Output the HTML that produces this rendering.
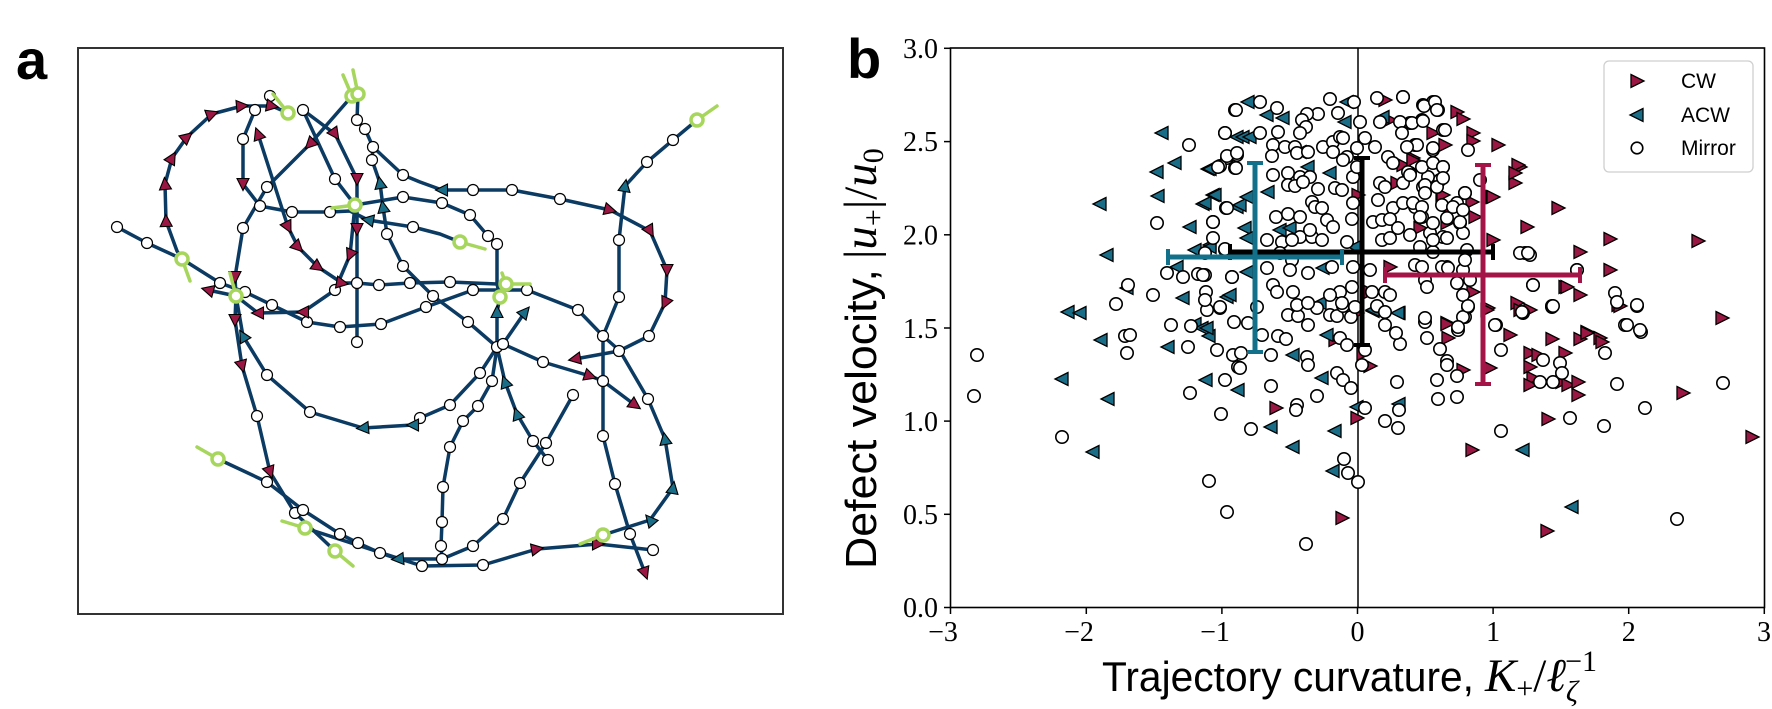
<!DOCTYPE html>
<html><head><meta charset="utf-8"><style>
html,body{margin:0;padding:0;background:#fff}
svg{display:block}
.tk{font-family:"Liberation Serif",serif;font-size:28px;fill:#000}
.sans{font-family:"Liberation Sans",sans-serif}
</style></head><body>
<svg width="1772" height="709" viewBox="0 0 1772 709" xmlns="http://www.w3.org/2000/svg">
<defs>
<path id="R" d="M-6,-6.5L7,0L-6,6.5Z" fill="#9b1743" stroke="#000" stroke-width="1.3"/>
<path id="L" d="M6,-6.5L-7,0L6,6.5Z" fill="#1a6d87" stroke="#000" stroke-width="1.3"/>
<path id="ta" d="M-5.5,-6L6.5,0L-5.5,6Z" stroke="#000" stroke-width="1.1"/>
</defs>
<rect width="1772" height="709" fill="#fff"/>

<!-- panel labels -->
<text x="16" y="79" class="sans" font-weight="bold" font-size="56">a</text>
<text x="847" y="78" class="sans" font-weight="bold" font-size="56">b</text>

<!-- ============ PANEL A ============ -->
<rect x="78" y="48" width="705" height="566" fill="none" stroke="#333" stroke-width="2"/>
<g fill="none" stroke="#0b3a62" stroke-width="3.5" stroke-linejoin="round" stroke-linecap="round">
<polyline points="182,259 177,251 166,221 165,184 172,158 187,137 212,114 242,106 272,106 288,113"/>
<polyline points="255,110 243,139 243,184 260,206 292,212 330,212 350,211 368,220 413,227 440,234 460,242"/>
<polyline points="352,96 310,144 267,187 243,228 235,277 236,296 235,320 242,366 257,416 270,472 295,513 335,551"/>
<polyline points="117,227 147,243 182,259 220,283 245,292 272,305 307,322 340,327 381,324 426,307 473,290 527,290 578,310 603,336 620,351 648,399 665,439 673,488 650,520 603,535"/>
<polyline points="355,205 350,255 335,290 303,312 258,313 236,296 208,290"/>
<polyline points="258,134 288,227 298,247 318,267 342,283 357,283 379,285 410,283 450,282 497,284 506,284"/>
<polyline points="303,110 335,134 357,179 357,229 357,283 357,342"/>
<polyline points="303,110 335,179 355,205"/>
<polyline points="358,94 357,120 365,129 373,147 372,160 380,183 383,207 387,234 403,266 433,296 468,322 497,347"/>
<polyline points="373,147 403,175 420,182 442,190 473,190 512,190 560,199 610,210 650,231 667,270 665,303 649,336 619,351 575,359"/>
<polyline points="355,205 403,197 442,203 470,215 488,236 497,244 497,284 500,297"/>
<polyline points="500,297 497,312 497,347"/>
<polyline points="503,344 525,312"/>
<polyline points="503,344 543,362 590,376 603,381 635,405"/>
<polyline points="497,347 480,373 450,405 420,418 413,425 363,428 310,412 267,375 243,336 236,296"/>
<polyline points="497,347 492,381 478,406 463,421 450,447 443,487 442,522 441,546 442,559"/>
<polyline points="497,347 505,382 517,414 533,441 548,460"/>
<polyline points="218,459 267,482 303,510 340,534 358,543 380,553 398,559 442,559 473,546 503,519 520,483 546,443 573,395"/>
<polyline points="305,528 422,566 483,565 537,549 598,544 653,550"/>
<polyline points="697,120 673,140 647,162 625,186 619,240 619,297 603,336 603,381 603,436 615,484 630,534 645,573"/>
</g>
<g fill="#fff" stroke="#000" stroke-width="1.2">
<circle cx="270" cy="96" r="5.5"/><circle cx="255" cy="110" r="5.5"/><circle cx="243" cy="139" r="5.5"/><circle cx="260" cy="206" r="5.5"/><circle cx="292" cy="212" r="5.5"/><circle cx="330" cy="212" r="5.5"/><circle cx="413" cy="227" r="5.5"/><circle cx="267" cy="187" r="5.5"/><circle cx="243" cy="228" r="5.5"/><circle cx="257" cy="416" r="5.5"/><circle cx="295" cy="513" r="5.5"/><circle cx="117" cy="227" r="5.5"/><circle cx="147" cy="243" r="5.5"/><circle cx="220" cy="283" r="5.5"/><circle cx="245" cy="292" r="5.5"/><circle cx="272" cy="305" r="5.5"/><circle cx="307" cy="322" r="5.5"/><circle cx="340" cy="327" r="5.5"/><circle cx="381" cy="324" r="5.5"/><circle cx="426" cy="307" r="5.5"/><circle cx="473" cy="290" r="5.5"/><circle cx="527" cy="290" r="5.5"/><circle cx="578" cy="310" r="5.5"/><circle cx="603" cy="336" r="5.5"/><circle cx="648" cy="399" r="5.5"/><circle cx="335" cy="290" r="5.5"/><circle cx="357" cy="283" r="5.5"/><circle cx="379" cy="285" r="5.5"/><circle cx="410" cy="283" r="5.5"/><circle cx="450" cy="282" r="5.5"/><circle cx="303" cy="110" r="5.5"/><circle cx="357" cy="342" r="5.5"/><circle cx="335" cy="179" r="5.5"/><circle cx="357" cy="120" r="5.5"/><circle cx="365" cy="129" r="5.5"/><circle cx="373" cy="147" r="5.5"/><circle cx="372" cy="160" r="5.5"/><circle cx="387" cy="234" r="5.5"/><circle cx="403" cy="266" r="5.5"/><circle cx="433" cy="296" r="5.5"/><circle cx="468" cy="322" r="5.5"/><circle cx="497" cy="347" r="5.5"/><circle cx="503" cy="344" r="5.5"/><circle cx="403" cy="175" r="5.5"/><circle cx="473" cy="190" r="5.5"/><circle cx="512" cy="190" r="5.5"/><circle cx="560" cy="199" r="5.5"/><circle cx="649" cy="336" r="5.5"/><circle cx="619" cy="351" r="5.5"/><circle cx="403" cy="197" r="5.5"/><circle cx="442" cy="203" r="5.5"/><circle cx="470" cy="215" r="5.5"/><circle cx="488" cy="236" r="5.5"/><circle cx="497" cy="244" r="5.5"/><circle cx="543" cy="362" r="5.5"/><circle cx="603" cy="381" r="5.5"/><circle cx="480" cy="373" r="5.5"/><circle cx="450" cy="405" r="5.5"/><circle cx="310" cy="412" r="5.5"/><circle cx="267" cy="375" r="5.5"/><circle cx="492" cy="381" r="5.5"/><circle cx="478" cy="406" r="5.5"/><circle cx="463" cy="421" r="5.5"/><circle cx="450" cy="447" r="5.5"/><circle cx="443" cy="487" r="5.5"/><circle cx="442" cy="522" r="5.5"/><circle cx="441" cy="546" r="5.5"/><circle cx="442" cy="559" r="5.5"/><circle cx="533" cy="441" r="5.5"/><circle cx="548" cy="460" r="5.5"/><circle cx="267" cy="482" r="5.5"/><circle cx="303" cy="510" r="5.5"/><circle cx="340" cy="534" r="5.5"/><circle cx="358" cy="543" r="5.5"/><circle cx="380" cy="553" r="5.5"/><circle cx="473" cy="546" r="5.5"/><circle cx="503" cy="519" r="5.5"/><circle cx="520" cy="483" r="5.5"/><circle cx="546" cy="443" r="5.5"/><circle cx="573" cy="395" r="5.5"/><circle cx="422" cy="566" r="5.5"/><circle cx="483" cy="565" r="5.5"/><circle cx="653" cy="550" r="5.5"/><circle cx="673" cy="140" r="5.5"/><circle cx="647" cy="162" r="5.5"/><circle cx="619" cy="240" r="5.5"/><circle cx="619" cy="297" r="5.5"/><circle cx="603" cy="436" r="5.5"/><circle cx="615" cy="484" r="5.5"/><circle cx="630" cy="534" r="5.5"/><circle cx="420" cy="418" r="5.5"/>
</g>
<g fill="#9b1743">
<use href="#ta" transform="translate(166,221) rotate(-92)"/><use href="#ta" transform="translate(165,184) rotate(-95)"/><use href="#ta" transform="translate(172,158) rotate(-60)"/><use href="#ta" transform="translate(187,137) rotate(-40)"/><use href="#ta" transform="translate(212,114) rotate(-20)"/><use href="#ta" transform="translate(242,106) rotate(-5)"/><use href="#ta" transform="translate(272,106) rotate(10)"/>
<use href="#ta" transform="translate(243,184) rotate(90)"/>
<use href="#ta" transform="translate(310,144) rotate(135)"/><use href="#ta" transform="translate(235,277) rotate(90)"/><use href="#ta" transform="translate(235,320) rotate(90)"/><use href="#ta" transform="translate(242,366) rotate(75)"/><use href="#ta" transform="translate(270,472) rotate(70)"/>
<use href="#ta" transform="translate(350,255) rotate(113)"/><use href="#ta" transform="translate(303,312) rotate(180)"/><use href="#ta" transform="translate(258,313) rotate(180)"/><use href="#ta" transform="translate(208,290) rotate(-165)"/>
<use href="#ta" transform="translate(258,134) rotate(-110)"/><use href="#ta" transform="translate(288,227) rotate(63)"/><use href="#ta" transform="translate(298,247) rotate(45)"/><use href="#ta" transform="translate(318,267) rotate(35)"/><use href="#ta" transform="translate(342,283) rotate(10)"/>
<use href="#ta" transform="translate(335,134) rotate(55)"/><use href="#ta" transform="translate(357,179) rotate(90)"/><use href="#ta" transform="translate(357,229) rotate(90)"/>
<use href="#ta" transform="translate(610,210) rotate(15)"/><use href="#ta" transform="translate(650,231) rotate(60)"/><use href="#ta" transform="translate(667,270) rotate(90)"/><use href="#ta" transform="translate(665,303) rotate(115)"/><use href="#ta" transform="translate(575,359) rotate(170)"/>
<use href="#ta" transform="translate(590,376) rotate(18)"/><use href="#ta" transform="translate(635,405) rotate(35)"/>
<use href="#ta" transform="translate(537,549) rotate(-10)"/><use href="#ta" transform="translate(598,544) rotate(0)"/>
<use href="#ta" transform="translate(645,573) rotate(70)"/>
</g>
<g fill="#1a6d87">
<use href="#ta" transform="translate(368,220) rotate(190)"/><use href="#ta" transform="translate(380,183) rotate(-100)"/><use href="#ta" transform="translate(383,207) rotate(-100)"/><use href="#ta" transform="translate(442,190) rotate(180)"/><use href="#ta" transform="translate(497,312) rotate(-90)"/><use href="#ta" transform="translate(525,312) rotate(-50)"/><use href="#ta" transform="translate(413,425) rotate(180)"/><use href="#ta" transform="translate(363,428) rotate(175)"/><use href="#ta" transform="translate(243,336) rotate(-120)"/><use href="#ta" transform="translate(505,382) rotate(-110)"/><use href="#ta" transform="translate(517,414) rotate(-110)"/><use href="#ta" transform="translate(665,439) rotate(-100)"/><use href="#ta" transform="translate(673,488) rotate(-80)"/><use href="#ta" transform="translate(650,520) rotate(-130)"/><use href="#ta" transform="translate(398,559) rotate(175)"/><use href="#ta" transform="translate(625,186) rotate(-80)"/>
</g>
<g stroke="#a6d65c" stroke-width="3.5" fill="#fff" stroke-linecap="round">
<line x1="460" y1="242" x2="485" y2="249"/><circle cx="460" cy="242" r="6"/>
<line x1="182" y1="259" x2="190" y2="281"/><circle cx="182" cy="259" r="6"/>
<line x1="288" y1="113" x2="273" y2="94"/><circle cx="288" cy="113" r="6"/>
<line x1="352" y1="96" x2="343" y2="75"/><circle cx="352" cy="96" r="6"/>
<line x1="358" y1="94" x2="353" y2="70"/><circle cx="358" cy="94" r="6"/>
<line x1="236" y1="296" x2="230" y2="273"/><circle cx="236" cy="296" r="6"/>
<line x1="355" y1="205" x2="332" y2="208"/><circle cx="355" cy="205" r="6"/>
<line x1="506" y1="284" x2="530" y2="284"/><line x1="506" y1="284" x2="502" y2="273"/><circle cx="506" cy="284" r="6"/>
<circle cx="500" cy="297" r="6"/>
<line x1="218" y1="459" x2="197" y2="447"/><circle cx="218" cy="459" r="6"/>
<line x1="305" y1="528" x2="282" y2="521"/><circle cx="305" cy="528" r="6"/>
<line x1="335" y1="551" x2="353" y2="566"/><circle cx="335" cy="551" r="6"/>
<line x1="603" y1="535" x2="580" y2="544"/><circle cx="603" cy="535" r="6"/>
<line x1="697" y1="120" x2="717" y2="106"/><circle cx="697" cy="120" r="6"/>
</g>

<!-- ============ PANEL B ============ -->
<line x1="1358" y1="48" x2="1358" y2="607.5" stroke="#000" stroke-width="1.5"/>
<!-- CW -->
<g>
<use href="#R" x="1385" y="100"/><use href="#R" x="1390" y="120"/><use href="#R" x="1457" y="112"/><use href="#R" x="1463" y="119"/><use href="#R" x="1433" y="133"/><use href="#R" x="1445" y="145"/><use href="#R" x="1473" y="133"/><use href="#R" x="1473" y="141"/><use href="#R" x="1498" y="145"/><use href="#R" x="1403" y="165"/><use href="#R" x="1413" y="158"/><use href="#R" x="1397" y="183"/><use href="#R" x="1442" y="195"/><use href="#R" x="1452" y="209"/><use href="#R" x="1447" y="223"/><use href="#R" x="1420" y="228"/><use href="#R" x="1472" y="202"/><use href="#R" x="1475" y="217"/><use href="#R" x="1492" y="197"/><use href="#R" x="1520" y="167"/><use href="#R" x="1515" y="183"/><use href="#R" x="1558" y="208"/><use href="#R" x="1527" y="227"/><use href="#R" x="1580" y="252"/><use href="#R" x="1493" y="240"/><use href="#R" x="1390" y="267"/><use href="#R" x="1370" y="292"/><use href="#R" x="1565" y="287"/><use href="#R" x="1580" y="295"/><use href="#R" x="1517" y="303"/><use href="#R" x="1530" y="310"/><use href="#R" x="1358" y="195"/>
<use href="#R" x="1413" y="160"/><use href="#R" x="1443" y="195"/><use href="#R" x="1450" y="208"/><use href="#R" x="1610" y="239"/><use href="#R" x="1698" y="241"/><use href="#R" x="1610" y="270"/><use href="#R" x="1567" y="287"/><use href="#R" x="1473" y="292"/><use href="#R" x="1447" y="323"/><use href="#R" x="1618" y="305"/><use href="#R" x="1722" y="318"/><use href="#R" x="1587" y="332"/><use href="#R" x="1600" y="338"/><use href="#R" x="1518" y="165"/><use href="#R" x="1515" y="173"/><use href="#R" x="1493" y="197"/>
<use href="#R" x="1370" y="366"/><use href="#R" x="1357" y="313"/><use href="#R" x="1335" y="340"/><use href="#R" x="1276" y="408"/><use href="#R" x="1357" y="418"/><use href="#R" x="1342" y="518"/><use href="#R" x="1447" y="324"/><use href="#R" x="1448" y="338"/><use href="#R" x="1463" y="370"/><use href="#R" x="1472" y="450"/><use href="#R" x="1490" y="368"/><use href="#R" x="1510" y="335"/><use href="#R" x="1520" y="310"/><use href="#R" x="1552" y="339"/><use href="#R" x="1580" y="339"/><use href="#R" x="1587" y="333"/><use href="#R" x="1530" y="353"/><use href="#R" x="1538" y="355"/><use href="#R" x="1565" y="353"/><use href="#R" x="1530" y="367"/><use href="#R" x="1533" y="378"/><use href="#R" x="1530" y="385"/><use href="#R" x="1562" y="382"/><use href="#R" x="1568" y="385"/><use href="#R" x="1578" y="382"/><use href="#R" x="1578" y="395"/><use href="#R" x="1548" y="419"/><use href="#R" x="1547" y="531"/><use href="#R" x="1488" y="308"/><use href="#R" x="1752" y="437"/><use href="#R" x="1683" y="393"/><use href="#R" x="1602" y="342"/><use href="#R" x="1620" y="306"/><use href="#R" x="1487" y="310"/><use href="#R" x="1363" y="354"/>
</g>
<!-- ACW -->
<g>
<use href="#L" x="1162" y="133"/><use href="#L" x="1175" y="163"/><use href="#L" x="1157" y="172"/><use href="#L" x="1208" y="169"/><use href="#L" x="1158" y="196"/><use href="#L" x="1213" y="195"/><use href="#L" x="1203" y="204"/><use href="#L" x="1100" y="204"/><use href="#L" x="1190" y="227"/><use href="#L" x="1107" y="255"/><use href="#L" x="1195" y="250"/><use href="#L" x="1210" y="245"/><use href="#L" x="1177" y="267"/><use href="#L" x="1127" y="288"/><use href="#L" x="1183" y="298"/><use href="#L" x="1227" y="297"/><use href="#L" x="1068" y="312"/><use href="#L" x="1080" y="313"/><use href="#L" x="1237" y="137"/><use href="#L" x="1237" y="207"/>
<use href="#L" x="1101" y="340"/><use href="#L" x="1168" y="347"/><use href="#L" x="1195" y="324"/><use href="#L" x="1202" y="328"/><use href="#L" x="1209" y="336"/><use href="#L" x="1062" y="379"/><use href="#L" x="1108" y="399"/><use href="#L" x="1206" y="380"/><use href="#L" x="1093" y="452"/><use href="#L" x="1238" y="390"/>
<use href="#L" x="1293" y="355"/><use href="#L" x="1322" y="378"/><use href="#L" x="1271" y="427"/><use href="#L" x="1293" y="447"/><use href="#L" x="1335" y="431"/><use href="#L" x="1333" y="471"/><use href="#L" x="1399" y="313"/><use href="#L" x="1373" y="311"/><use href="#L" x="1399" y="404"/><use href="#L" x="1523" y="450"/><use href="#L" x="1572" y="507"/><use href="#L" x="1207" y="328"/><use href="#L" x="1327" y="335"/><use href="#L" x="1357" y="407"/>
<use href="#L" x="1248" y="102"/><use href="#L" x="1267" y="115"/><use href="#L" x="1283" y="118"/><use href="#L" x="1243" y="137"/><use href="#L" x="1250" y="137"/><use href="#L" x="1210" y="169"/><use href="#L" x="1345" y="122"/><use href="#L" x="1383" y="117"/><use href="#L" x="1330" y="173"/><use href="#L" x="1300" y="152"/><use href="#L" x="1308" y="167"/><use href="#L" x="1268" y="192"/><use href="#L" x="1215" y="195"/><use href="#L" x="1205" y="203"/><use href="#L" x="1240" y="205"/><use href="#L" x="1247" y="197"/><use href="#L" x="1245" y="228"/><use href="#L" x="1247" y="238"/><use href="#L" x="1280" y="230"/><use href="#L" x="1290" y="228"/><use href="#L" x="1210" y="247"/><use href="#L" x="1355" y="247"/><use href="#L" x="1247" y="272"/><use href="#L" x="1323" y="268"/><use href="#L" x="1230" y="295"/><use href="#L" x="1320" y="303"/><use href="#L" x="1373" y="310"/><use href="#L" x="1398" y="313"/><use href="#L" x="1347" y="102"/>
</g>
<!-- Mirror -->
<g fill="#fff" stroke="#000" stroke-width="1.6">
<circle cx="1235" cy="110" r="6.2"/><circle cx="1225" cy="133" r="6.2"/><circle cx="1189" cy="145" r="6.2"/><circle cx="1227" cy="158" r="6.2"/><circle cx="1237" cy="155" r="6.2"/><circle cx="1220" cy="166" r="6.2"/><circle cx="1235" cy="168" r="6.2"/><circle cx="1226" cy="208" r="6.2"/><circle cx="1157" cy="223" r="6.2"/><circle cx="1213" cy="222" r="6.2"/><circle cx="1213" cy="238" r="6.2"/><circle cx="1225" cy="250" r="6.2"/><circle cx="1167" cy="273" r="6.2"/><circle cx="1183" cy="277" r="6.2"/><circle cx="1198" cy="274" r="6.2"/><circle cx="1205" cy="275" r="6.2"/><circle cx="1232" cy="277" r="6.2"/><circle cx="1128" cy="285" r="6.2"/><circle cx="1153" cy="295" r="6.2"/><circle cx="1206" cy="292" r="6.2"/><circle cx="1116" cy="304" r="6.2"/><circle cx="1207" cy="310" r="6.2"/><circle cx="1220" cy="308" r="6.2"/>
<circle cx="977" cy="355" r="6.2"/><circle cx="974" cy="396" r="6.2"/><circle cx="1125" cy="336" r="6.2"/><circle cx="1130" cy="335" r="6.2"/><circle cx="1127" cy="353" r="6.2"/><circle cx="1171" cy="325" r="6.2"/><circle cx="1188" cy="347" r="6.2"/><circle cx="1191" cy="326" r="6.2"/><circle cx="1234" cy="322" r="6.2"/><circle cx="1217" cy="350" r="6.2"/><circle cx="1233" cy="355" r="6.2"/><circle cx="1238" cy="367" r="6.2"/><circle cx="1190" cy="393" r="6.2"/><circle cx="1225" cy="380" r="6.2"/><circle cx="1221" cy="414" r="6.2"/><circle cx="1062" cy="437" r="6.2"/><circle cx="1209" cy="481" r="6.2"/><circle cx="1227" cy="512" r="6.2"/>
<circle cx="1248" cy="323" r="6.2"/><circle cx="1257" cy="307" r="6.2"/><circle cx="1262" cy="335" r="6.2"/><circle cx="1241" cy="353" r="6.2"/><circle cx="1240" cy="368" r="6.2"/><circle cx="1271" cy="355" r="6.2"/><circle cx="1278" cy="336" r="6.2"/><circle cx="1286" cy="339" r="6.2"/><circle cx="1288" cy="315" r="6.2"/><circle cx="1298" cy="316" r="6.2"/><circle cx="1308" cy="325" r="6.2"/><circle cx="1317" cy="308" r="6.2"/><circle cx="1330" cy="315" r="6.2"/><circle cx="1337" cy="316" r="6.2"/><circle cx="1343" cy="306" r="6.2"/><circle cx="1351" cy="317" r="6.2"/><circle cx="1307" cy="357" r="6.2"/><circle cx="1308" cy="365" r="6.2"/><circle cx="1271" cy="386" r="6.2"/><circle cx="1317" cy="396" r="6.2"/><circle cx="1337" cy="373" r="6.2"/><circle cx="1343" cy="380" r="6.2"/><circle cx="1351" cy="388" r="6.2"/><circle cx="1340" cy="338" r="6.2"/><circle cx="1347" cy="345" r="6.2"/><circle cx="1362" cy="365" r="6.2"/><circle cx="1365" cy="350" r="6.2"/><circle cx="1297" cy="405" r="6.2"/><circle cx="1296" cy="410" r="6.2"/><circle cx="1251" cy="429" r="6.2"/><circle cx="1365" cy="408" r="6.2"/><circle cx="1385" cy="421" r="6.2"/><circle cx="1398" cy="428" r="6.2"/><circle cx="1397" cy="382" r="6.2"/><circle cx="1400" cy="344" r="6.2"/><circle cx="1396" cy="333" r="6.2"/><circle cx="1385" cy="325" r="6.2"/><circle cx="1377" cy="306" r="6.2"/><circle cx="1385" cy="312" r="6.2"/><circle cx="1344" cy="459" r="6.2"/><circle cx="1348" cy="473" r="6.2"/><circle cx="1358" cy="482" r="6.2"/><circle cx="1306" cy="544" r="6.2"/><circle cx="1399" cy="410" r="6.2"/>
<circle cx="1425" cy="322" r="6.2"/><circle cx="1427" cy="338" r="6.2"/><circle cx="1440" cy="349" r="6.2"/><circle cx="1447" cy="361" r="6.2"/><circle cx="1447" cy="365" r="6.2"/><circle cx="1437" cy="380" r="6.2"/><circle cx="1438" cy="399" r="6.2"/><circle cx="1457" cy="376" r="6.2"/><circle cx="1457" cy="397" r="6.2"/><circle cx="1458" cy="330" r="6.2"/><circle cx="1465" cy="317" r="6.2"/><circle cx="1468" cy="307" r="6.2"/><circle cx="1496" cy="325" r="6.2"/><circle cx="1501" cy="350" r="6.2"/><circle cx="1501" cy="431" r="6.2"/><circle cx="1523" cy="313" r="6.2"/><circle cx="1552" cy="306" r="6.2"/><circle cx="1543" cy="360" r="6.2"/><circle cx="1560" cy="363" r="6.2"/><circle cx="1562" cy="373" r="6.2"/><circle cx="1540" cy="382" r="6.2"/><circle cx="1553" cy="382" r="6.2"/><circle cx="1570" cy="418" r="6.2"/><circle cx="1637" cy="306" r="6.2"/><circle cx="1625" cy="325" r="6.2"/><circle cx="1641" cy="332" r="6.2"/><circle cx="1605" cy="353" r="6.2"/><circle cx="1617" cy="384" r="6.2"/><circle cx="1645" cy="408" r="6.2"/><circle cx="1604" cy="426" r="6.2"/><circle cx="1723" cy="383" r="6.2"/><circle cx="1677" cy="519" r="6.2"/>
<circle cx="1403" cy="97" r="6.2"/><circle cx="1423" cy="105" r="6.2"/><circle cx="1433" cy="102" r="6.2"/><circle cx="1438" cy="110" r="6.2"/><circle cx="1443" cy="130" r="6.2"/><circle cx="1468" cy="150" r="6.2"/><circle cx="1410" cy="123" r="6.2"/><circle cx="1422" cy="120" r="6.2"/><circle cx="1415" cy="145" r="6.2"/><circle cx="1433" cy="150" r="6.2"/><circle cx="1443" cy="167" r="6.2"/><circle cx="1428" cy="177" r="6.2"/><circle cx="1423" cy="187" r="6.2"/><circle cx="1410" cy="173" r="6.2"/><circle cx="1440" cy="180" r="6.2"/><circle cx="1415" cy="207" r="6.2"/><circle cx="1422" cy="217" r="6.2"/><circle cx="1430" cy="233" r="6.2"/><circle cx="1443" cy="237" r="6.2"/><circle cx="1457" cy="203" r="6.2"/><circle cx="1465" cy="193" r="6.2"/><circle cx="1460" cy="223" r="6.2"/><circle cx="1463" cy="233" r="6.2"/><circle cx="1420" cy="247" r="6.2"/><circle cx="1433" cy="252" r="6.2"/><circle cx="1447" cy="267" r="6.2"/><circle cx="1463" cy="270" r="6.2"/><circle cx="1470" cy="280" r="6.2"/><circle cx="1425" cy="280" r="6.2"/><circle cx="1525" cy="253" r="6.2"/><circle cx="1530" cy="255" r="6.2"/><circle cx="1577" cy="270" r="6.2"/><circle cx="1533" cy="285" r="6.2"/><circle cx="1552" cy="307" r="6.2"/><circle cx="1615" cy="293" r="6.2"/><circle cx="1617" cy="302" r="6.2"/><circle cx="1637" cy="305" r="6.2"/><circle cx="1627" cy="325" r="6.2"/><circle cx="1640" cy="330" r="6.2"/><circle cx="1495" cy="325" r="6.2"/><circle cx="1425" cy="318" r="6.2"/><circle cx="1463" cy="317" r="6.2"/><circle cx="1458" cy="327" r="6.2"/>
<circle cx="1330" cy="99" r="6.2"/><circle cx="1354" cy="102" r="6.2"/><circle cx="1377" cy="98" r="6.2"/><circle cx="1403" cy="97" r="6.2"/><circle cx="1424" cy="106" r="6.2"/><circle cx="1435" cy="102" r="6.2"/><circle cx="1437" cy="110" r="6.2"/><circle cx="1260" cy="102" r="6.2"/><circle cx="1277" cy="108" r="6.2"/><circle cx="1236" cy="110" r="6.2"/><circle cx="1318" cy="114" r="6.2"/><circle cx="1307" cy="114" r="6.2"/><circle cx="1302" cy="120" r="6.2"/><circle cx="1306" cy="127" r="6.2"/><circle cx="1360" cy="122" r="6.2"/><circle cx="1338" cy="113" r="6.2"/><circle cx="1380" cy="122" r="6.2"/><circle cx="1400" cy="122" r="6.2"/><circle cx="1412" cy="123" r="6.2"/><circle cx="1423" cy="121" r="6.2"/><circle cx="1225" cy="133" r="6.2"/><circle cx="1260" cy="133" r="6.2"/><circle cx="1278" cy="132" r="6.2"/><circle cx="1300" cy="133" r="6.2"/><circle cx="1273" cy="145" r="6.2"/><circle cx="1285" cy="147" r="6.2"/><circle cx="1295" cy="147" r="6.2"/><circle cx="1323" cy="147" r="6.2"/><circle cx="1333" cy="142" r="6.2"/><circle cx="1340" cy="137" r="6.2"/><circle cx="1343" cy="138" r="6.2"/><circle cx="1357" cy="148" r="6.2"/><circle cx="1365" cy="138" r="6.2"/><circle cx="1375" cy="147" r="6.2"/><circle cx="1402" cy="133" r="6.2"/><circle cx="1445" cy="130" r="6.2"/><circle cx="1417" cy="145" r="6.2"/><circle cx="1407" cy="147" r="6.2"/><circle cx="1433" cy="148" r="6.2"/><circle cx="1227" cy="156" r="6.2"/><circle cx="1237" cy="153" r="6.2"/><circle cx="1272" cy="156" r="6.2"/><circle cx="1297" cy="153" r="6.2"/><circle cx="1308" cy="152" r="6.2"/><circle cx="1333" cy="152" r="6.2"/><circle cx="1347" cy="157" r="6.2"/><circle cx="1343" cy="160" r="6.2"/><circle cx="1388" cy="157" r="6.2"/><circle cx="1393" cy="163" r="6.2"/><circle cx="1408" cy="172" r="6.2"/><circle cx="1422" cy="167" r="6.2"/><circle cx="1433" cy="163" r="6.2"/><circle cx="1443" cy="167" r="6.2"/><circle cx="1218" cy="167" r="6.2"/><circle cx="1236" cy="168" r="6.2"/><circle cx="1273" cy="175" r="6.2"/><circle cx="1288" cy="173" r="6.2"/><circle cx="1300" cy="177" r="6.2"/><circle cx="1310" cy="177" r="6.2"/><circle cx="1288" cy="185" r="6.2"/><circle cx="1295" cy="186" r="6.2"/><circle cx="1303" cy="182" r="6.2"/><circle cx="1318" cy="189" r="6.2"/><circle cx="1335" cy="188" r="6.2"/><circle cx="1342" cy="190" r="6.2"/><circle cx="1353" cy="177" r="6.2"/><circle cx="1357" cy="167" r="6.2"/><circle cx="1380" cy="183" r="6.2"/><circle cx="1385" cy="187" r="6.2"/><circle cx="1403" cy="183" r="6.2"/><circle cx="1410" cy="175" r="6.2"/><circle cx="1425" cy="185" r="6.2"/><circle cx="1437" cy="187" r="6.2"/><circle cx="1443" cy="178" r="6.2"/><circle cx="1480" cy="180" r="6.2"/><circle cx="1378" cy="200" r="6.2"/><circle cx="1353" cy="203" r="6.2"/><circle cx="1312" cy="202" r="6.2"/><circle cx="1315" cy="207" r="6.2"/><circle cx="1322" cy="208" r="6.2"/><circle cx="1393" cy="208" r="6.2"/><circle cx="1403" cy="203" r="6.2"/><circle cx="1413" cy="203" r="6.2"/><circle cx="1425" cy="193" r="6.2"/><circle cx="1422" cy="207" r="6.2"/><circle cx="1442" cy="205" r="6.2"/><circle cx="1453" cy="207" r="6.2"/><circle cx="1465" cy="193" r="6.2"/><circle cx="1213" cy="222" r="6.2"/><circle cx="1227" cy="208" r="6.2"/><circle cx="1276" cy="217" r="6.2"/><circle cx="1288" cy="214" r="6.2"/><circle cx="1300" cy="217" r="6.2"/><circle cx="1327" cy="220" r="6.2"/><circle cx="1333" cy="227" r="6.2"/><circle cx="1352" cy="219" r="6.2"/><circle cx="1373" cy="222" r="6.2"/><circle cx="1382" cy="220" r="6.2"/><circle cx="1390" cy="219" r="6.2"/><circle cx="1398" cy="228" r="6.2"/><circle cx="1410" cy="235" r="6.2"/><circle cx="1420" cy="217" r="6.2"/><circle cx="1433" cy="223" r="6.2"/><circle cx="1447" cy="218" r="6.2"/><circle cx="1460" cy="222" r="6.2"/><circle cx="1463" cy="210" r="6.2"/><circle cx="1300" cy="237" r="6.2"/><circle cx="1312" cy="237" r="6.2"/><circle cx="1322" cy="240" r="6.2"/><circle cx="1267" cy="240" r="6.2"/><circle cx="1282" cy="242" r="6.2"/><circle cx="1292" cy="240" r="6.2"/><circle cx="1310" cy="230" r="6.2"/><circle cx="1347" cy="242" r="6.2"/><circle cx="1382" cy="240" r="6.2"/><circle cx="1390" cy="238" r="6.2"/><circle cx="1433" cy="240" r="6.2"/><circle cx="1447" cy="238" r="6.2"/><circle cx="1467" cy="250" r="6.2"/><circle cx="1520" cy="253" r="6.2"/><circle cx="1528" cy="253" r="6.2"/><circle cx="1205" cy="253" r="6.2"/><circle cx="1225" cy="249" r="6.2"/><circle cx="1280" cy="253" r="6.2"/><circle cx="1292" cy="260" r="6.2"/><circle cx="1415" cy="265" r="6.2"/><circle cx="1422" cy="267" r="6.2"/><circle cx="1442" cy="267" r="6.2"/><circle cx="1448" cy="268" r="6.2"/><circle cx="1465" cy="260" r="6.2"/><circle cx="1267" cy="268" r="6.2"/><circle cx="1290" cy="270" r="6.2"/><circle cx="1308" cy="273" r="6.2"/><circle cx="1332" cy="267" r="6.2"/><circle cx="1353" cy="267" r="6.2"/><circle cx="1370" cy="270" r="6.2"/><circle cx="1203" cy="275" r="6.2"/><circle cx="1232" cy="277" r="6.2"/><circle cx="1273" cy="285" r="6.2"/><circle cx="1293" cy="292" r="6.2"/><circle cx="1277" cy="292" r="6.2"/><circle cx="1340" cy="292" r="6.2"/><circle cx="1352" cy="287" r="6.2"/><circle cx="1372" cy="292" r="6.2"/><circle cx="1385" cy="292" r="6.2"/><circle cx="1390" cy="295" r="6.2"/><circle cx="1427" cy="287" r="6.2"/><circle cx="1457" cy="283" r="6.2"/><circle cx="1463" cy="295" r="6.2"/><circle cx="1533" cy="285" r="6.2"/><circle cx="1553" cy="306" r="6.2"/><circle cx="1577" cy="270" r="6.2"/><circle cx="1220" cy="307" r="6.2"/><circle cx="1205" cy="300" r="6.2"/><circle cx="1330" cy="295" r="6.2"/><circle cx="1342" cy="303" r="6.2"/><circle cx="1355" cy="307" r="6.2"/><circle cx="1297" cy="305" r="6.2"/><circle cx="1308" cy="303" r="6.2"/><circle cx="1468" cy="306" r="6.2"/><circle cx="1522" cy="312" r="6.2"/>
</g>
<!-- error bars -->
<g stroke="#000" stroke-width="5">
<line x1="1230" y1="252" x2="1493" y2="252"/><line x1="1362" y1="158" x2="1362" y2="345"/>
<line x1="1230" y1="244" x2="1230" y2="260" stroke-width="4"/><line x1="1493" y1="244" x2="1493" y2="260" stroke-width="4"/>
<line x1="1354" y1="158" x2="1370" y2="158" stroke-width="4"/><line x1="1354" y1="345" x2="1370" y2="345" stroke-width="4"/>
</g>
<g stroke="#12708a" stroke-width="5">
<line x1="1168" y1="257" x2="1342" y2="257"/><line x1="1255" y1="163" x2="1255" y2="352"/>
<line x1="1168" y1="249" x2="1168" y2="265" stroke-width="4"/><line x1="1342" y1="249" x2="1342" y2="265" stroke-width="4"/>
<line x1="1247" y1="163" x2="1263" y2="163" stroke-width="4"/><line x1="1247" y1="352" x2="1263" y2="352" stroke-width="4"/>
</g>
<g stroke="#a51446" stroke-width="5">
<line x1="1385" y1="275" x2="1580" y2="275"/><line x1="1483" y1="165" x2="1483" y2="384"/>
<line x1="1385" y1="267" x2="1385" y2="283" stroke-width="4"/><line x1="1580" y1="267" x2="1580" y2="283" stroke-width="4"/>
<line x1="1475" y1="165" x2="1491" y2="165" stroke-width="4"/><line x1="1475" y1="384" x2="1491" y2="384" stroke-width="4"/>
</g>

<!-- axes frame -->
<rect x="950.5" y="48" width="814" height="559.5" fill="none" stroke="#000" stroke-width="1.6"/>
<g stroke="#000" stroke-width="1.5">
<line x1="944" y1="607.5" x2="950.5" y2="607.5"/><line x1="944" y1="514.3" x2="950.5" y2="514.3"/><line x1="944" y1="421.1" x2="950.5" y2="421.1"/><line x1="944" y1="328" x2="950.5" y2="328"/><line x1="944" y1="234.8" x2="950.5" y2="234.8"/><line x1="944" y1="141.6" x2="950.5" y2="141.6"/><line x1="944" y1="48.3" x2="950.5" y2="48.3"/>
<line x1="950.5" y1="607.5" x2="950.5" y2="614"/><line x1="1086.3" y1="607.5" x2="1086.3" y2="614"/><line x1="1221.9" y1="607.5" x2="1221.9" y2="614"/><line x1="1357.5" y1="607.5" x2="1357.5" y2="614"/><line x1="1493.1" y1="607.5" x2="1493.1" y2="614"/><line x1="1628.7" y1="607.5" x2="1628.7" y2="614"/><line x1="1764.3" y1="607.5" x2="1764.3" y2="614"/>
</g>
<g class="tk" text-anchor="end">
<text x="938" y="617">0.0</text><text x="938" y="524">0.5</text><text x="938" y="431">1.0</text><text x="938" y="338">1.5</text><text x="938" y="244.5">2.0</text><text x="938" y="151">2.5</text><text x="938" y="58">3.0</text>
</g>
<g class="tk" text-anchor="middle">
<text x="943" y="641">−3</text><text x="1079" y="641">−2</text><text x="1215" y="641">−1</text><text x="1357.5" y="641">0</text><text x="1493.1" y="641">1</text><text x="1628.7" y="641">2</text><text x="1764" y="641">3</text>
</g>

<!-- axis labels -->
<text x="1102" y="691" class="sans" font-size="42" textLength="372" lengthAdjust="spacingAndGlyphs">Trajectory curvature,</text>
<text x="1485" y="691" font-family="Liberation Serif, serif" font-size="47"><tspan font-style="italic">K</tspan><tspan font-size="30" dy="7">+</tspan><tspan dy="-7">/</tspan><tspan font-style="italic">ℓ</tspan><tspan font-size="30" font-style="italic" dy="10">ζ</tspan><tspan font-size="30" dx="-13" dy="-30">−1</tspan></text>
<g transform="translate(876,569) rotate(-90)">
<text x="0" y="0" class="sans" font-size="44" textLength="300" lengthAdjust="spacingAndGlyphs">Defect velocity,</text>
<text x="310" y="0" font-family="Liberation Serif, serif" font-size="47">|<tspan font-style="italic">u</tspan><tspan font-size="30" dy="7">+</tspan><tspan dy="-7">|/</tspan><tspan font-style="italic">u</tspan><tspan font-size="30" dy="7">0</tspan></text>
</g>

<!-- legend -->
<rect x="1604" y="61" width="149" height="111" rx="5" fill="#fff" fill-opacity="0.9" stroke="#cfcfcf" stroke-width="1.3"/>
<use href="#R" x="1637" y="81"/>
<use href="#L" x="1637" y="115"/>
<circle cx="1637" cy="148" r="5.8" fill="#fff" stroke="#000" stroke-width="1.6"/>
<g class="sans" font-size="21">
<text x="1681" y="88">CW</text><text x="1681" y="122">ACW</text><text x="1681" y="155">Mirror</text>
</g>
</svg>
</body></html>
